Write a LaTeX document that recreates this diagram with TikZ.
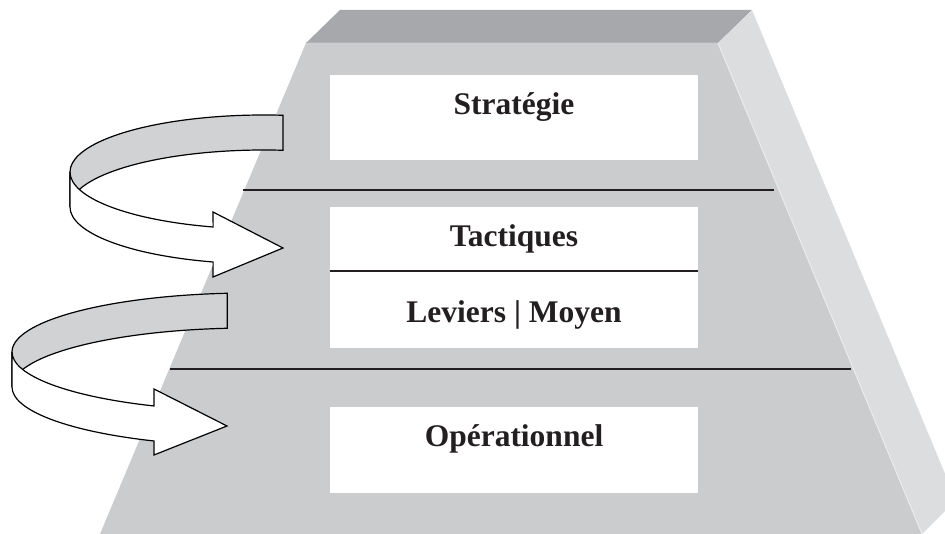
\documentclass[tikz,border=0pt]{standalone}
\usepackage{fontspec}
\setmainfont{Liberation Serif}
\usetikzlibrary{calc}
\definecolor{frontc}{HTML}{CBCCCE}
\definecolor{sidec}{HTML}{DCDDDF}
\definecolor{topc}{HTML}{A7A8AB}
\definecolor{edgec}{HTML}{ECECEE}
\definecolor{ribbongray}{HTML}{D1D2D4}
\definecolor{txt}{HTML}{231F20}
\begin{document}
\begin{tikzpicture}[x=1pt,y=1pt,line join=miter,
  lbl/.style={font=\fontsize{31.5}{36}\selectfont\bfseries, text=txt, anchor=base, inner sep=0pt},
  whitebox/.style={fill=white, draw=none, inner sep=0pt, anchor=south west},
  sepline/.style={draw=txt, line width=1.8pt},
  divline/.style={draw=txt, line width=1.4pt},
  ribbonback/.style={fill=ribbongray, draw=black, line width=1.2pt},
  ribbonfront/.style={fill=white, draw=black, line width=1.2pt}]
\useasboundingbox (0,0) rectangle (945,534);
% pyramid
\begin{scope}
\clip (0,0) rectangle (945,534);
\fill[topc] (306,491) -- (340,524) -- (752,524) -- (718,491) -- cycle;
\fill[sidec] (718,491) -- (752,524) -- (956,34) -- (922,0) -- cycle;
\fill[frontc] (306,491) -- (718,491) -- (922,0) -- (100,0) -- cycle;
\draw[edgec, line width=1pt] (718,491) -- (922,0);
\draw[topc!70!frontc, line width=1pt] (306,491) -- (718,491);
\end{scope}
% boxes
\node[whitebox, minimum width=368pt, minimum height=85pt] (bstrat) at (330,374) {};
\node[whitebox, minimum width=368pt, minimum height=141pt] (btact) at (330,186) {};
\node[whitebox, minimum width=368pt, minimum height=86pt] (bop) at (330,41) {};
\draw[divline] (btact.west |- 0,263) -- (btact.east |- 0,263);
% separators
\coordinate (s1l) at (243,344);
\coordinate (s1r) at (774,344);
\coordinate (s2l) at (170,165);
\coordinate (s2r) at (851,165);
\draw[sepline] (s1l) -- (s1r);
\draw[sepline] (s2l) -- (s2r);
% labels
\node[lbl] (tstrat) at (514,419) {Stratégie};
\node[lbl] (ttact) at (514,287) {Tactiques};
\node[lbl] (tlev) at (514,211) {Leviers | Moyen};
\node[lbl] (top) at (514,87) {Opérationnel};
% arrow 1
\coordinate (c1) at (264,362);
\draw[ribbonback] ($(c1)+(84.4:194pt and 57pt)$) arc[start angle=84.4, end angle=180, x radius=194pt, y radius=57pt]
  -- ++(0,-35) arc[start angle=180, end angle=84.4, x radius=194pt, y radius=57pt] -- cycle;
\draw[ribbonfront] ($(c1)+(180:194pt and 57pt)$) arc[start angle=180, end angle=254.8, x radius=194pt, y radius=57pt]
  -- (213,322) -- (283,286) -- (213,257)
  -- ($(c1)+(254.8:194pt and 57pt)+(0,-35)$) arc[start angle=254.8, end angle=180, x radius=194pt, y radius=57pt] -- cycle;
% arrow 2
\coordinate (c2) at (250,182);
\draw[ribbonback] ($(c2)+(95.5:238pt and 59pt)$) arc[start angle=95.5, end angle=180, x radius=238pt, y radius=59pt]
  -- ++(0,-35) arc[start angle=180, end angle=95.5, x radius=238pt, y radius=59pt] -- cycle;
\draw[ribbonfront] ($(c2)+(180:238pt and 59pt)$) arc[start angle=180, end angle=246.2, x radius=238pt, y radius=59pt]
  -- (154,145) -- (227,108) -- (154,79)
  -- ($(c2)+(246.2:238pt and 59pt)+(0,-35)$) arc[start angle=246.2, end angle=180, x radius=238pt, y radius=59pt] -- cycle;
\end{tikzpicture}
\end{document}
